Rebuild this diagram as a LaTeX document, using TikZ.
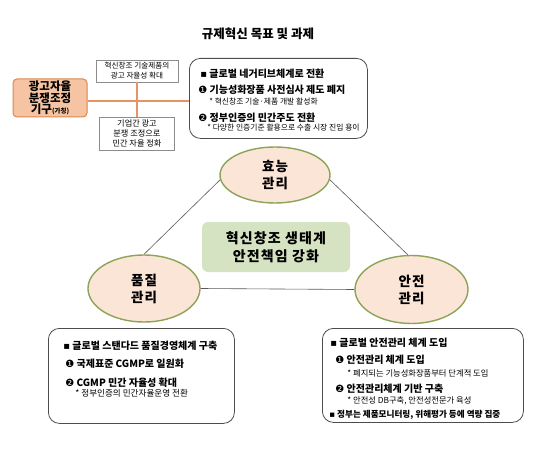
\documentclass[tikz,border=0pt]{standalone}
\usepackage{fontspec}
\setmainfont{Noto Sans CJK KR}
\newfontfamily\widefont{Noto Sans CJK KR}[LetterSpace=8]
\newfontfamily\symfont{DejaVu Sans}
\usepackage{tikz}
\usetikzlibrary{positioning,shapes.geometric,calc}
\definecolor{peach}{HTML}{FBE5D6}
\definecolor{olive}{HTML}{8CA358}
\definecolor{sage}{HTML}{D5E3C3}
\definecolor{apricot}{HTML}{F6C4A2}
\definecolor{rust}{HTML}{D9874E}
\definecolor{linkorange}{HTML}{E59462}
\newcommand{\sqb}{{\symfont\mdseries ▪}}
\newcommand{\numone}{{\symfont\mdseries ❶}}
\newcommand{\numtwo}{{\symfont\mdseries ❷}}
% size, baseline distance, indent, text
\newcommand{\boxrow}[4]{{\fontsize{#1}{#2}\selectfont\hspace*{#3}#4\par}}
\tikzset{
  goal/area/.style={draw=olive, line width=1.4pt, fill=peach, ellipse, inner sep=0pt, align=center, font=\widefont\fontsize{13.5}{17}\selectfont\bfseries},
  goal/core/.style={fill=sage, rounded corners=6pt, minimum width=148pt, minimum height=50pt, align=center, font=\widefont\fontsize{14}{17.5}\selectfont\bfseries},
  goal/task/.style={draw=black!70, line width=0.8pt, rounded corners=11pt, inner sep=0pt, anchor=north west},
  goal/tie/.style={draw=black!65, line width=0.6pt},
  ad/body/.style={draw=rust, line width=1pt, fill=apricot, rounded corners=4pt, minimum width=74pt, minimum height=38pt, align=center, inner sep=0pt, font=\fontsize{11.5}{11.5}\selectfont\bfseries},
  ad/note/.style={draw=black!45, line width=0.5pt, fill=white, align=center, inner sep=0pt, font=\fontsize{7.6}{10}\selectfont},
  ad/link/.style={draw=linkorange, line width=2pt}
}

\begin{document}
\begin{tikzpicture}[x=1pt, y=-1pt]
  \useasboundingbox (0,0) rectangle (536,452);
  \node[font=\fontsize{12.5}{13}\selectfont\bfseries] (title) at (258,34) {규제혁신 목표 및 과제};

  \node[ad/body] (adbody) at (50,98) {광고자율\\분쟁조정\\기구{\fontsize{6.5}{7}\selectfont(가칭)}};
  \node[ad/note, minimum width=82pt, minimum height=22pt] (adtop) at (137,71) {혁신창조 기술제품의\\광고 자율성 확대};
  \node[ad/note, minimum width=75pt, minimum height=33pt, font=\fontsize{8.2}{10}\selectfont] (adbot) at (137,133.5) {기업간 광고\\분쟁 조정으로\\민간 자율 정화};

  \node[goal/task] (netask) at (189,58) {\parbox[c][80pt][t]{178pt}{%
    \boxrow{10}{12}{11pt}{\bfseries\rule{0pt}{18.7pt}\sqb\ 글로벌 네거티브체계로 전환}%
    \boxrow{10}{16}{9pt}{\bfseries\numone\ 기능성화장품 사전심사 제도 폐지}%
    \boxrow{7.8}{11.2}{20pt}{* 혁신창조 기술·제품 개발 활성화}%
    \boxrow{10}{16.9}{9pt}{\bfseries\numtwo\ 정부인증의 민간주도 전환}%
    \boxrow{7.8}{9.4}{18pt}{* 다양한 인증기준 활용으로 수출 시장 진입 용이}}};

  \draw[ad/link] ([yshift=-3pt]adbody.east) -- ([yshift=-3pt]adbody.east -| netask.west);
  \draw[ad/link] (adtop.south) -- (adbot.north);

  \node[goal/area, minimum width=110pt, minimum height=56pt] (hyo) at (275,175) {효능\\관리};
  \node[goal/area, minimum width=112pt, minimum height=67pt] (qual) at (144,288.5) {품질\\관리};
  \node[goal/area, minimum width=113pt, minimum height=68pt] (safe) at (411.5,289.5) {안전\\관리};
  \node[goal/core] (core) at (276,247) {혁신창조 생태계\\안전책임 강화};

  \draw[goal/tie] (hyo.185) -- (qual.north);
  \draw[goal/tie] (hyo.355) -- (safe.96);
  \draw[goal/tie] (qual.east) -- (safe.west);

  \node[goal/task] (qtask) at (48,328) {\parbox[c][95pt][t]{186pt}{%
    \boxrow{10}{12}{15pt}{\bfseries\rule{0pt}{20.8pt}\sqb\ 글로벌 스탠다드 품질경영체계 구축}%
    \boxrow{10}{18}{17pt}{\bfseries\numone\ 국제표준 CGMP로 일원화}%
    \boxrow{10}{19}{17pt}{\bfseries\numtwo\ CGMP 민간 자율성 확대}%
    \boxrow{8.6}{9.8}{27pt}{* 정부인증의 민간자율운영 전환}}};

  \node[goal/task] (stask) at (322,328) {\parbox[c][94pt][t]{201pt}{%
    \boxrow{10}{12}{8pt}{\bfseries\rule{0pt}{17.8pt}\sqb\ 글로벌 안전관리 체계 도입}%
    \boxrow{10}{17}{13pt}{\bfseries\numone\ 안전관리 체계 도입}%
    \boxrow{8.3}{13.3}{25pt}{* 폐지되는 기능성화장품부터 단계적 도입}%
    \boxrow{10}{15.7}{13pt}{\bfseries\numtwo\ 안전관리체계 기반 구축}%
    \boxrow{8.3}{11.3}{25pt}{* 안전성 DB구축, 안전성전문가 육성}%
    \boxrow{8.6}{14.2}{7pt}{\bfseries\sqb\ 정부는 제품모니터링, 위해평가 등에 역량 집중}}};
\end{tikzpicture}
\end{document}
